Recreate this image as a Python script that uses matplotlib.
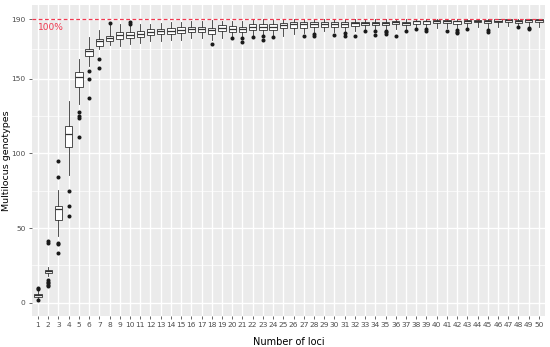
import numpy as np
import matplotlib.pyplot as plt

loci = list(range(1, 51))

# box statistics (Multilocus genotypes)
q1 = [4, 20, 55.7, 104.2, 144.8, 165.3, 172, 175, 176.5, 177,
      178, 179, 180, 180, 180.5, 181, 181, 180.3, 182, 181.5,
      181, 182.6, 182.6, 182.8, 183.7, 184.3, 184.3, 184.8, 185, 185,
      185, 185.5, 185.9, 185.9, 185.9, 186.6, 185.9, 187, 187, 187.2,
      187.2, 187, 187.5, 187.7, 187.2, 187.7, 188, 187.2, 187.7, 188]
med = [5, 21, 62.9, 113.2, 151.5, 168.5, 175, 177.4, 179.4, 179,
       180, 181, 182, 182, 182.5, 183, 183, 182.5, 184, 183.5,
       183, 185, 185, 185, 186, 186.5, 186.5, 187, 187, 187,
       187, 187.5, 187.5, 187.5, 187.5, 188, 187.5, 188.5, 188.5, 189,
       189, 188.5, 189, 189, 189, 189, 189.5, 189, 189.5, 189.5]
q3 = [6, 22, 65, 118.4, 154.5, 170.2, 176.5, 178.5, 181, 181,
      182, 183, 183, 184, 184.5, 185, 185, 184.3, 185.9, 185.5,
      184.8, 186.6, 186.6, 186.6, 187.2, 187.7, 187.7, 188, 188, 188,
      188, 188.3, 188, 188, 188, 188.8, 188, 188.8, 188.8, 189.3,
      189.3, 188.8, 189.3, 189.6, 189.3, 190, 190, 189.3, 190, 190]
whislo = [3, 18, 44.5, 85.4, 132.9, 158.6, 169.8, 172.7, 172, 173,
          174, 175, 175, 176, 176, 177, 177, 176, 177, 178,
          178, 179, 179, 179, 178.8, 180, 180.5, 181, 182, 181,
          182, 182, 183, 183, 183, 183, 183.5, 184, 184, 184,
          184, 184, 184.5, 184.5, 184, 185, 185.5, 186, 185.5, 185]
whishi = [8, 24, 75.8, 135, 163, 178, 182.8, 186, 186.6, 186,
          187, 187, 187.5, 188, 188, 188.5, 188.5, 189.5, 189, 189,
          189, 189.5, 190, 189.5, 190, 190, 190, 190, 190, 190,
          190, 190, 190, 190, 190, 190, 190, 190, 190, 190,
          190, 190, 190, 190, 190, 190, 190, 190, 190, 190]
fliers = [[9, 10, 2], [40, 41, 15, 14, 13, 12, 11], [95, 84, 40, 39, 33],
          [75, 65, 58], [128, 125, 124, 111], [155, 150, 137], [163, 157],
          [187.2], [], [187, 188], [], [], [], [], [], [], [],
          [173.2], [], [177.2], [177, 174.3], [177.7], [178.4, 176],
          [177.7], [], [], [178.4], [180.3, 178.4], [], [179],
          [180.5, 178.4], [178.4], [182], [182, 179], [182, 181, 179.7],
          [178.8], [182], [183], [183, 181.7], [], [182],
          [182.8, 181.5, 180.8], [183.5], [], [182.8, 181.5], [], [],
          [185], [184, 183], []]

yticks = [0, 50, 100, 150, 190]
yminor = [25, 75, 125, 170]

stats = []
for i in range(len(loci)):
    stats.append(dict(med=med[i], q1=q1[i], q3=q3[i], whislo=whislo[i],
                      whishi=whishi[i], fliers=fliers[i]))

fig = plt.figure(figsize=(5.5, 3.47), dpi=100)
ax = fig.add_axes([0.058, 0.089, 0.933, 0.897])
ax.set_facecolor('#EBEBEB')
for s in ax.spines.values():
    s.set_visible(False)

for y in yminor:
    ax.axhline(y, color='white', lw=0.5, zorder=0)
for y in yticks:
    ax.axhline(y, color='white', lw=1.0, zorder=0)
for x in loci:
    ax.axvline(x, color='white', lw=1.0, zorder=0)

ax.bxp(stats, positions=loci, widths=0.72, patch_artist=True, showcaps=False,
       boxprops=dict(facecolor='white', edgecolor='#333333', lw=0.6),
       medianprops=dict(color='#333333', lw=0.9),
       whiskerprops=dict(color='#333333', lw=0.6),
       flierprops=dict(marker='o', markerfacecolor='#1a1a1a',
                       markeredgecolor='#1a1a1a', markersize=1.9),
       zorder=3)

ax.axhline(190, color='#F0384F', lw=0.9, ls=(0, (3, 2)), zorder=4)
ax.text(0.95, 184.5, '100%', color='#F0384F', fontsize=6.5, va='center', ha='left')

ax.set_xlim(0.4, 50.6)
ax.set_ylim(-9, 199.5)
ax.set_xticks(loci)
ax.set_xticklabels([str(v) for v in loci])
ax.set_yticks(yticks)
ax.tick_params(axis='both', colors='#4D4D4D', labelsize=5.4, length=2.5,
               width=0.6, pad=2)
ax.set_xlabel('Number of loci', fontsize=7, labelpad=6)
fig.text(0.011, 0.537, 'Multilocus genotypes', fontsize=6.8, rotation=90,
         ha='center', va='center')

fig.savefig('out.png', dpi=100)
